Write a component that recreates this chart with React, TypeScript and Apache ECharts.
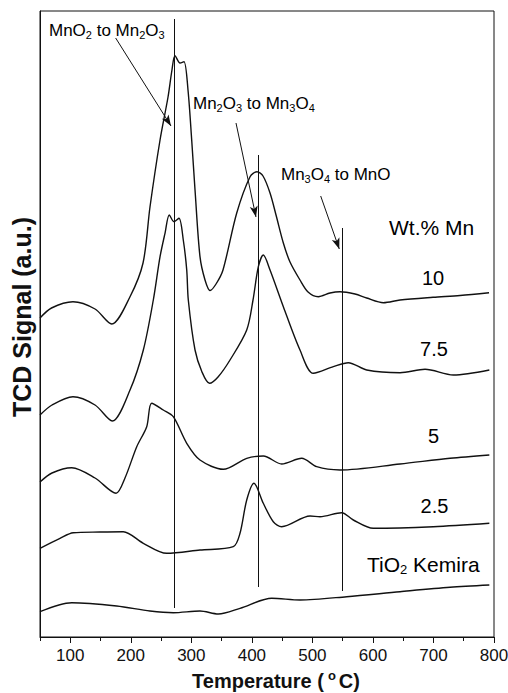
import React, { useEffect, useRef } from "react";
import * as echarts from "echarts";

const FONT = "'Liberation Sans', Arial, Helvetica, sans-serif";

// Temperature (°C) and TCD signal (a.u.)
const temp10 = [50, 69, 104.5, 140.9, 168.5, 198.7, 220.2, 231.7, 248.3, 261.5, 268, 273, 281.3, 287.9, 294.5, 300.6, 306.1, 314.3, 322.6, 330.9, 340.8, 352.3, 375, 397, 408.5, 418.4, 430, 439.9, 452, 463, 479.5, 492.8, 509.8, 529.1, 545.6, 570.4, 589.7, 617.2, 644.8, 699.3, 743.9, 791.8];
const signal10 = [319, 329, 335.3, 328, 313, 340.3, 374, 430, 497, 540, 567, 581.3, 574, 575.3, 547, 497, 447, 380.3, 357, 346.5, 353, 367, 424, 460.3, 465.3, 461, 444, 422, 394, 375, 357, 345, 340.3, 344, 345.3, 343, 339, 334.3, 337, 339.7, 341.5, 344.3];

const temp75 = [50, 69.8, 104.5, 140.9, 169.4, 198.7, 220.7, 237.2, 248.3, 256.5, 263.6, 271.4, 279.6, 286.7, 292.4, 295, 306.1, 317.6, 330, 344.1, 363.9, 391.5, 401.9, 410.7, 418.9, 430, 452, 479.5, 501.5, 534.6, 559.3, 589.7, 644.8, 686.1, 732.8, 792.3];
const signal75 = [222, 232, 240.3, 232, 216, 247, 287, 337, 380.3, 403.7, 422, 415.3, 418.7, 397, 367, 337, 287, 265, 253.7, 260, 277, 307, 337, 370.3, 382, 367, 330.3, 287, 263.7, 270.3, 274.3, 267, 264.3, 267.7, 262, 267];

const temp5 = [50, 69.8, 102.4, 140.9, 175.6, 190.4, 209.8, 226.3, 234.5, 253.7, 270.2, 292.4, 314.3, 352.8, 391.5, 418.9, 449.3, 482.3, 507.1, 545.6, 644.8, 727.4, 792.3];
const signal5 = [155, 164, 169.3, 159, 143.7, 159, 190.3, 210.3, 233.7, 227, 220.3, 193.7, 177, 167.7, 178.7, 181, 173, 178.7, 170.3, 167, 173, 178.7, 182];

const temp25 = [50, 83, 105, 149.1, 187.6, 220.7, 259.3, 314.3, 369.3, 380.4, 391.5, 403.5, 418.9, 435.4, 449.3, 496.1, 512.6, 548.4, 567.6, 600.6, 699.8, 792.3];
const signal25 = [88.7, 98.7, 104.3, 105, 105.3, 93.7, 83.7, 87, 90.3, 103.7, 137, 153.7, 133.7, 115.3, 110.3, 121, 120.3, 124.3, 117, 108.7, 110.3, 113.7];

const tempTiO2 = [50, 102.4, 176.7, 231.7, 270.2, 314.3, 344.6, 380.4, 432.8, 479.5, 556.7, 644.8, 727.4, 792.3];
const signalTiO2 = [25.3, 34.3, 31, 26, 24.3, 26, 23, 28.7, 38.7, 37, 40.3, 45.3, 49.7, 52];

// Reduction step markers: temperature, signal bottom, signal top
const stepTemps = [271, 411, 549];
const stepBottoms = [29, 50, 46];
const stepTops = [618, 482, 409];

// Arrows: [fromT, fromS, toT, toS]
const arrows = [
  [175, 599, 266.4, 511],
  [373.8, 514, 406.8, 420],
  [513.7, 441, 544.4, 388],
];

const majorTicks = [100, 200, 300, 400, 500, 600, 700, 800];
const minorTicks = [50, 150, 250, 350, 450, 550, 650, 750];

const zip = (xs: number[], ys: number[]) => xs.map((x, i) => [x, ys[i]]);

export default function App() {
  const ref = useRef<HTMLDivElement>(null);
  useEffect(() => {
    document.body.style.margin = "0";
    const chart = echarts.init(ref.current!, null, { renderer: "svg" });
    const lineSeries = (name: string, xs: number[], ys: number[], extra: any = {}) => ({
      type: "line",
      name,
      data: zip(xs, ys),
      showSymbol: false,
      symbol: "none",
      smooth: 0.3,
      lineStyle: { color: "#111", width: 1.4 },
      silent: true,
      z: 3,
      ...extra,
    });
    const markLines: any[] = [];
    stepTemps.forEach((t, i) => {
      markLines.push([
        { coord: [t, stepBottoms[i]], symbol: "none" },
        { coord: [t, stepTops[i]], symbol: "none" },
      ]);
    });
    arrows.forEach((a) => {
      markLines.push([
        { coord: [a[0], a[1]], symbol: "none" },
        { coord: [a[2], a[3]], symbol: "arrow", symbolSize: [6, 11] },
      ]);
    });
    const annNormal = { fontSize: 17, lineHeight: 21, fontFamily: FONT, fill: "#000" };
    const annSub = { fontSize: 11, lineHeight: 10, verticalAlign: "bottom", fontFamily: FONT, fill: "#000" };
    const bigNormal = { fontSize: 20, lineHeight: 24, fontFamily: FONT, fill: "#000" };
    const bigSub = { fontSize: 13, lineHeight: 12, verticalAlign: "bottom", fontFamily: FONT, fill: "#000" };
    const txt = (x: number, y: number, text: string, rich: any, align = "left") => ({
      type: "text",
      x,
      y,
      silent: true,
      style: { text, rich, align, verticalAlign: "middle", fill: "#000", fontFamily: FONT },
      z: 10,
    });
    const smallRich = { n: annNormal, s: annSub };
    const bigRich = { n: bigNormal, s: bigSub };

    chart.setOption({
      animation: false,
      grid: {
        left: 40,
        right: 14,
        top: 11,
        bottom: 56,
        containLabel: false,
        outerBoundsMode: "none",
        show: true,
        borderColor: "#111",
        borderWidth: 1,
      },
      xAxis: [
        {
          type: "value",
          min: 50,
          max: 800,
          position: "bottom",
          axisLine: { show: true, onZero: false, lineStyle: { color: "#111", width: 1 } },
          axisTick: { show: true, inside: false, length: 6, customValues: majorTicks, lineStyle: { color: "#111" } },
          axisLabel: {
            show: true,
            customValues: majorTicks,
            margin: 10,
            fontSize: 17,
            fontFamily: FONT,
            color: "#111",
          },
          splitLine: { show: false },
          name: "{b|Temperature (}{p|o}{b|C)}",
          nameLocation: "middle",
          nameGap: 28,
          nameTextStyle: {
            padding: [0, 0, 0, 18],
            rich: {
              b: { fontSize: 20, fontWeight: "bold", lineHeight: 25, fontFamily: FONT, color: "#111" },
              p: { fontSize: 13, fontWeight: "bold", lineHeight: 8, verticalAlign: "top", fontFamily: FONT, color: "#111", padding: [0, 3, 0, 4] },
            },
          },
        },
        {
          type: "value",
          min: 50,
          max: 800,
          position: "bottom",
          axisLine: { show: false, onZero: false },
          axisTick: { show: true, inside: false, length: 4, customValues: minorTicks, lineStyle: { color: "#111" } },
          axisLabel: { show: false },
          splitLine: { show: false },
        },
      ],
      yAxis: {
        type: "value",
        min: 0,
        max: 626,
        axisLine: { show: true, onZero: false, lineStyle: { color: "#111" } },
        axisTick: { show: false },
        axisLabel: { show: false },
        splitLine: { show: false },
        name: "TCD Signal (a.u.)",
        nameLocation: "middle",
        nameGap: 6,
        nameTextStyle: { fontSize: 25, fontWeight: "bold", fontFamily: FONT, color: "#111", padding: [0, 0, 0, 14] },
      },
      series: [
        lineSeries("10", temp10, signal10),
        lineSeries("7.5", temp75, signal75),
        lineSeries("5", temp5, signal5),
        lineSeries("2.5", temp25, signal25),
        lineSeries("TiO2 Kemira", tempTiO2, signalTiO2, {
          markLine: {
            silent: true,
            animation: false,
            symbol: "none",
            label: { show: false },
            emphasis: { disabled: true },
            lineStyle: { color: "#111", width: 1, type: "solid" },
            data: markLines,
          },
        }),
      ],
      graphic: [
        txt(49, 30, "{n|MnO}{s|2}{n| to Mn}{s|2}{n|O}{s|3}", smallRich),
        txt(193, 103, "{n|Mn}{s|2}{n|O}{s|3}{n| to Mn}{s|3}{n|O}{s|4}", smallRich),
        txt(281, 174, "{n|Mn}{s|3}{n|O}{s|4}{n| to MnO}", smallRich),
        txt(389, 227, "{n|Wt.% Mn}", { n: { ...bigNormal, fontSize: 21 } }),
        txt(433, 278, "{n|10}", bigRich, "center"),
        txt(434, 349, "{n|7.5}", bigRich, "center"),
        txt(433.5, 436, "{n|5}", bigRich, "center"),
        txt(434.5, 506, "{n|2.5}", bigRich, "center"),
        txt(367, 564, "{n|TiO}{s|2}{n| Kemira}", { n: { ...bigNormal, fontSize: 21 }, s: bigSub }),
      ],
    });
    return () => chart.dispose();
  }, []);
  return <div ref={ref} style={{ width: 508, height: 693 }} />;
}
